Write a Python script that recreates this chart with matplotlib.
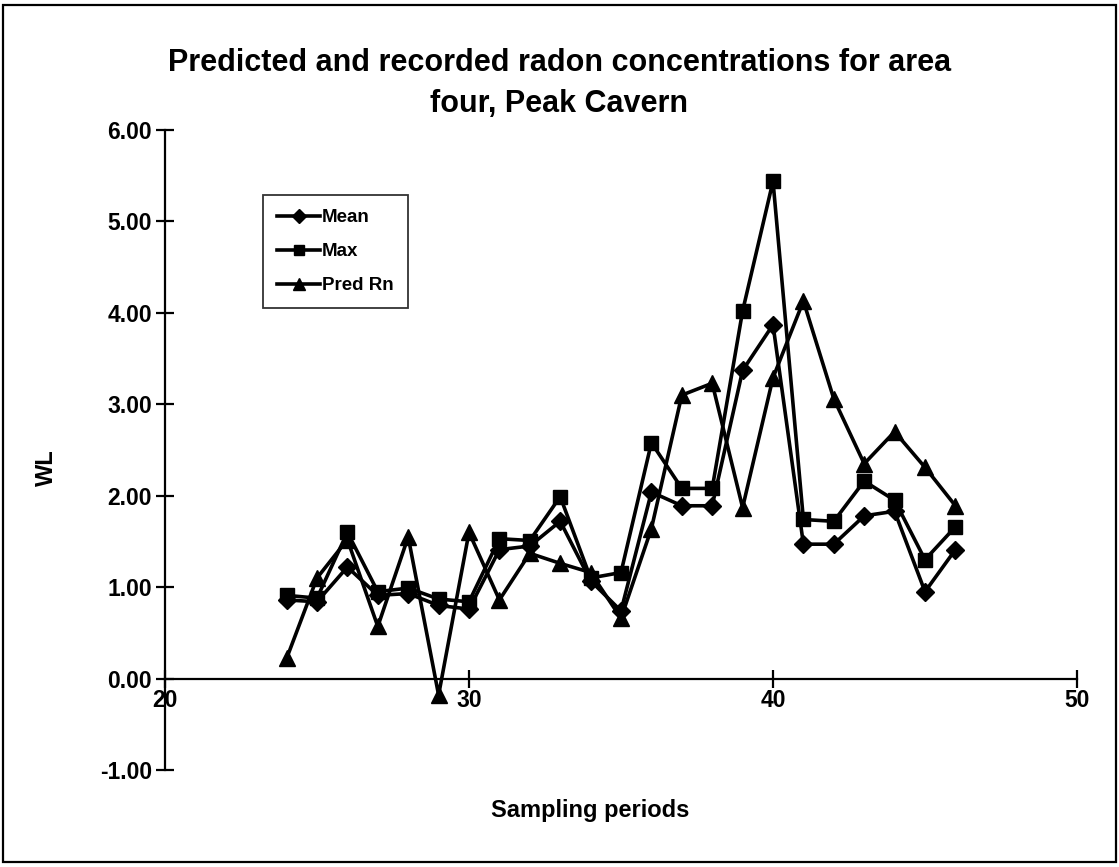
import matplotlib
matplotlib.use("Agg")
import matplotlib.pyplot as plt
from matplotlib.patches import Rectangle
from matplotlib.ticker import FormatStrFormatter
from matplotlib.font_manager import FontProperties

# Sampling periods and radon working-level (WL) series
periods = list(range(24, 47))
mean_wl = [0.86, 0.84, 1.22, 0.91, 0.93, 0.80, 0.76, 1.41, 1.45, 1.72, 1.07, 0.74,
           2.04, 1.89, 1.89, 3.37, 3.87, 1.47, 1.47, 1.78, 1.83, 0.95, 1.41]
max_wl = [0.91, 0.88, 1.60, 0.95, 0.99, 0.87, 0.84, 1.53, 1.51, 1.99, 1.10, 1.16,
          2.58, 2.08, 2.08, 4.02, 5.44, 1.74, 1.72, 2.16, 1.95, 1.30, 1.66]
pred_rn = [0.22, 1.10, 1.52, 0.57, 1.55, -0.18, 1.60, 0.86, 1.37, 1.26, 1.16, 0.66,
           1.64, 3.10, 3.23, 1.87, 3.29, 4.13, 3.06, 2.35, 2.70, 2.31, 1.89]

x_ticks = [20, 30, 40, 50]
y_ticks = [-1, 0, 1, 2, 3, 4, 5, 6]

plt.rcParams['font.family'] = ['Liberation Sans', 'DejaVu Sans']

W, H = 1119, 867
fig = plt.figure(figsize=(W / 100, H / 100), dpi=100)

# Outer chart frame
fig.patches.append(Rectangle((3 / W, 5 / H), (W - 6) / W, (H - 10) / H,
                             transform=fig.transFigure, fill=False,
                             edgecolor='black', linewidth=1.6))

ax = fig.add_axes([165 / W, 1 - 770 / H, (1077 - 165) / W, (770 - 130) / H])

line_kw = dict(color='black', linewidth=2.6, markeredgecolor='black',
               markerfacecolor='black')
ax.plot(periods, mean_wl, marker='D', markersize=9, label='Mean', **line_kw)
ax.plot(periods, max_wl, marker='s', markersize=10, label='Max', **line_kw)
ax.plot(periods, pred_rn, marker='^', markersize=11.5, label='Pred Rn', **line_kw)

ax.set_xlim(20, 50)
ax.set_ylim(-1, 6)
ax.set_xticks(x_ticks)
ax.set_yticks(y_ticks)
ax.yaxis.set_major_formatter(FormatStrFormatter('%.2f'))

# Axes cross at the origin of the value scale, Excel style
for side in ('top', 'right'):
    ax.spines[side].set_visible(False)
ax.spines['bottom'].set_position(('data', 0))
ax.spines['left'].set_position(('data', 20))
for side in ('bottom', 'left'):
    ax.spines[side].set_linewidth(1.6)

ax.tick_params(axis='both', direction='inout', length=13, width=1.6,
               labelsize=16.5)
ax.tick_params(axis='x', pad=1)
ax.tick_params(axis='y', pad=3)
for lab in ax.get_xticklabels() + ax.get_yticklabels():
    lab.set_fontweight('bold')

fig.text(0.5, 1 - 63 / H, 'Predicted and recorded radon concentrations for area',
         ha='center', va='center', fontsize=22, fontweight='bold')
fig.text(0.5, 1 - 104 / H, 'four, Peak Cavern',
         ha='center', va='center', fontsize=22, fontweight='bold')

fig.text(46 / W, 1 - 468 / H, 'WL', rotation=90, ha='center', va='center',
         fontsize=17, fontweight='bold')
fig.text(590 / W, 1 - 810 / H, 'Sampling periods', ha='center', va='center',
         fontsize=17, fontweight='bold')

legend_font = FontProperties(family=['Liberation Sans'], size=13.5, weight='bold')
leg = ax.legend(loc='upper left', bbox_to_anchor=(263 / W, 1 - 195 / H),
                bbox_transform=fig.transFigure, frameon=True, fancybox=False,
                edgecolor='black', handlelength=2.3, handletextpad=0.1,
                borderpad=0.75, labelspacing=0.9, borderaxespad=0,
                markerscale=0.75, prop=legend_font)
leg.get_frame().set_linewidth(1.3)

fig.savefig('out.png', dpi=100)
